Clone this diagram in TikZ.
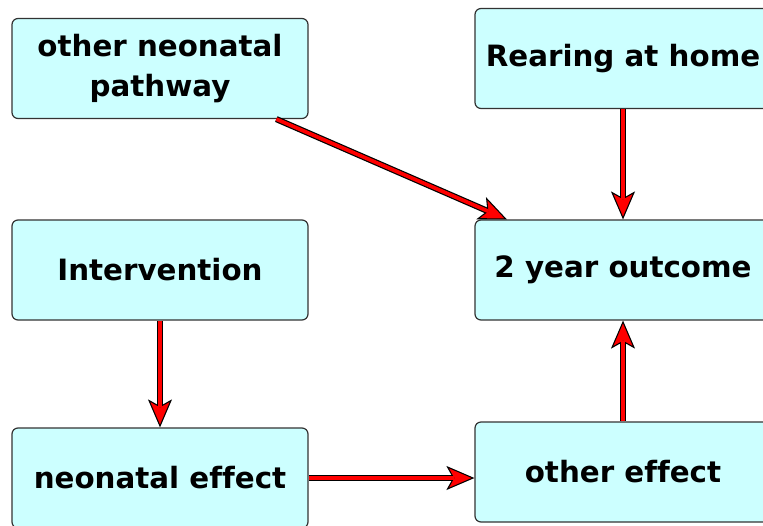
\documentclass[tikz,border=0pt]{standalone}
\usepackage{fontspec}
\setmainfont[Ligatures=NoCommon]{DejaVu Sans}
\usetikzlibrary{arrows.meta,positioning}
\definecolor{boxfill}{RGB}{204,255,255}

\begin{document}
\begin{tikzpicture}[
    x = 0.75pt, y = -0.75pt,
    font = \fontsize{22}{30}\selectfont\bfseries,
    block/.style={rectangle, rounded corners=4.5pt, draw=black!80, line width=0.9pt,
        fill=boxfill, minimum width=222pt, minimum height=75pt, align=center, inner sep=2pt},
    flow/.style={draw=black, line width=4.6pt,
        -{Stealth[length=21pt, width=18pt, inset=5pt, line width=0.8pt, fill=red]},
        postaction={draw=red, line width=2.8pt, -, shorten >=15pt}}
]
    \clip (0,0) rectangle (763,525);

    \node[block] (onp)   at (160,68.5) {other neonatal\\pathway};
    \node[block] (rear)  at (623,58.5) {Rearing at home};
    \node[block] (inter) at (160,270)  {Intervention};
    \node[block] (out)   at (623,270)  {2 year outcome};
    \node[block] (neo)   at (160,478)  {neonatal effect};
    \node[block] (oeff)  at (623,472)  {other effect};

    \draw[flow] (onp) -- (out);
    \draw[flow] (rear) -- (out);
    \draw[flow] (inter) -- (neo);
    \draw[flow] (neo) -- (neo -| oeff.west);
    \draw[flow] (oeff) -- (out);
\end{tikzpicture}
\end{document}
